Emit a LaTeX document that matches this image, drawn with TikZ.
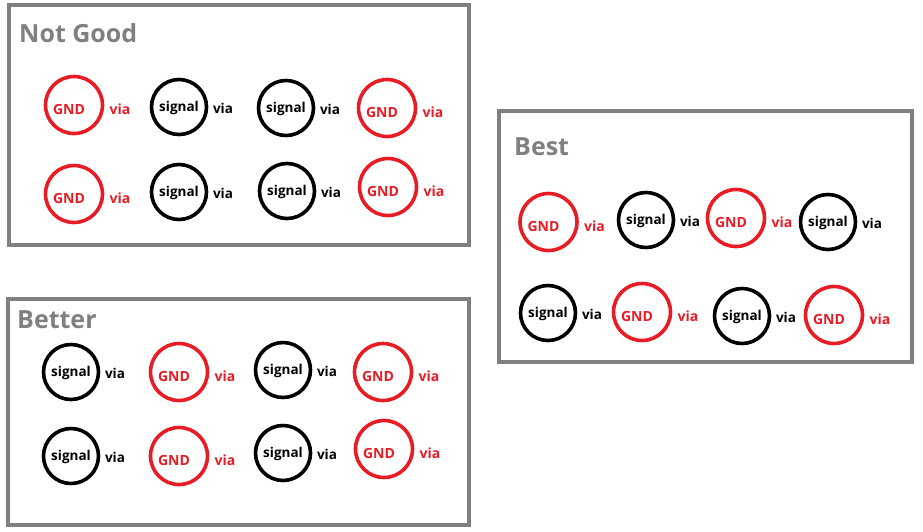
\documentclass[tikz,border=0pt]{standalone}
\usepackage{fontspec}
\setmainfont{Open Sans}
\usepackage{tikz}
\usetikzlibrary{
  calc,        % 坐标偏移
  positioning  % 节点相对定位
}
\definecolor{boxgray}{RGB}{128,128,128}
\definecolor{gndred}{RGB}{232,28,36}
\tikzset{
  panel/.style={draw=boxgray, line width=4pt},
  paneltitle/.style={text=boxgray, anchor=base west, inner sep=0pt,
    font=\bfseries\fontsize{25}{25}\selectfont},
  gndring/.style={circle, draw=gndred, line width=3.6pt, minimum size=57pt, inner sep=0pt},
  sigring/.style={circle, draw=black, line width=3.6pt, minimum size=55pt, inner sep=0pt},
  gndtext/.style={text=gndred, inner sep=0pt, font=\bfseries\fontsize{14}{14}\selectfont},
  sigtext/.style={text=black, inner sep=0pt, font=\bfseries\fontsize{13.5}{14}\selectfont},
  gndvia/.style={gndtext},
  sigvia/.style={sigtext}
}
\begin{document}
\begin{tikzpicture}[x=1pt, y=-1pt]
    % 画布大小
    \useasboundingbox (0,0) rectangle (923,531);

    % 三个框
    \draw[panel] (8.5,5) rectangle (469,245);
    \draw[panel] (498.5,111) rectangle (911.5,361.5);
    \draw[panel] (8,299) rectangle (469,525);

    % 框标题
    \node[paneltitle] (tng) at (19,42) {Not Good};
    \node[paneltitle] (tbest) at (514,155) {Best};
    \node[paneltitle] (tbetter) at (17,328) {Better};

    % GND 过孔（红色）
    \foreach \n/\cx/\cy in {ng1/74/105, ng4/387/108, ng5/74/194, ng8/388/187,
                            bt2/179/372, bt4/383/372, bt6/179/456, bt8/384/449,
                            bs1/548.5/222, bs3/736/218, bs6/642/312, bs8/834/315} {
      \node[gndring] (\n) at (\cx,\cy) {};
      \node[gndtext] (\n-t) at ([shift={(-5,4)}]\n.center) {GND};
      \node[gndvia] (\n-v) at ([shift={(46,4)}]\n.center) {via};
    }

    % signal 过孔（黑色）
    \foreach \n/\cx/\cy in {ng2/179/107, ng3/286/108, ng6/179/192, ng7/287/191,
                            bt1/71/372, bt3/283/370, bt5/71/456, bt7/283/453,
                            bs2/646/220, bs4/828/222, bs5/548/313, bs7/742/316} {
      \node[sigring] (\n) at (\cx,\cy) {};
      \node[sigtext] (\n-t) at ([shift={(0,1)}]\n.center) {signal};
      \node[sigvia] (\n-v) at ([shift={(44,1)}]\n.center) {via};
    }
\end{tikzpicture}
\end{document}
